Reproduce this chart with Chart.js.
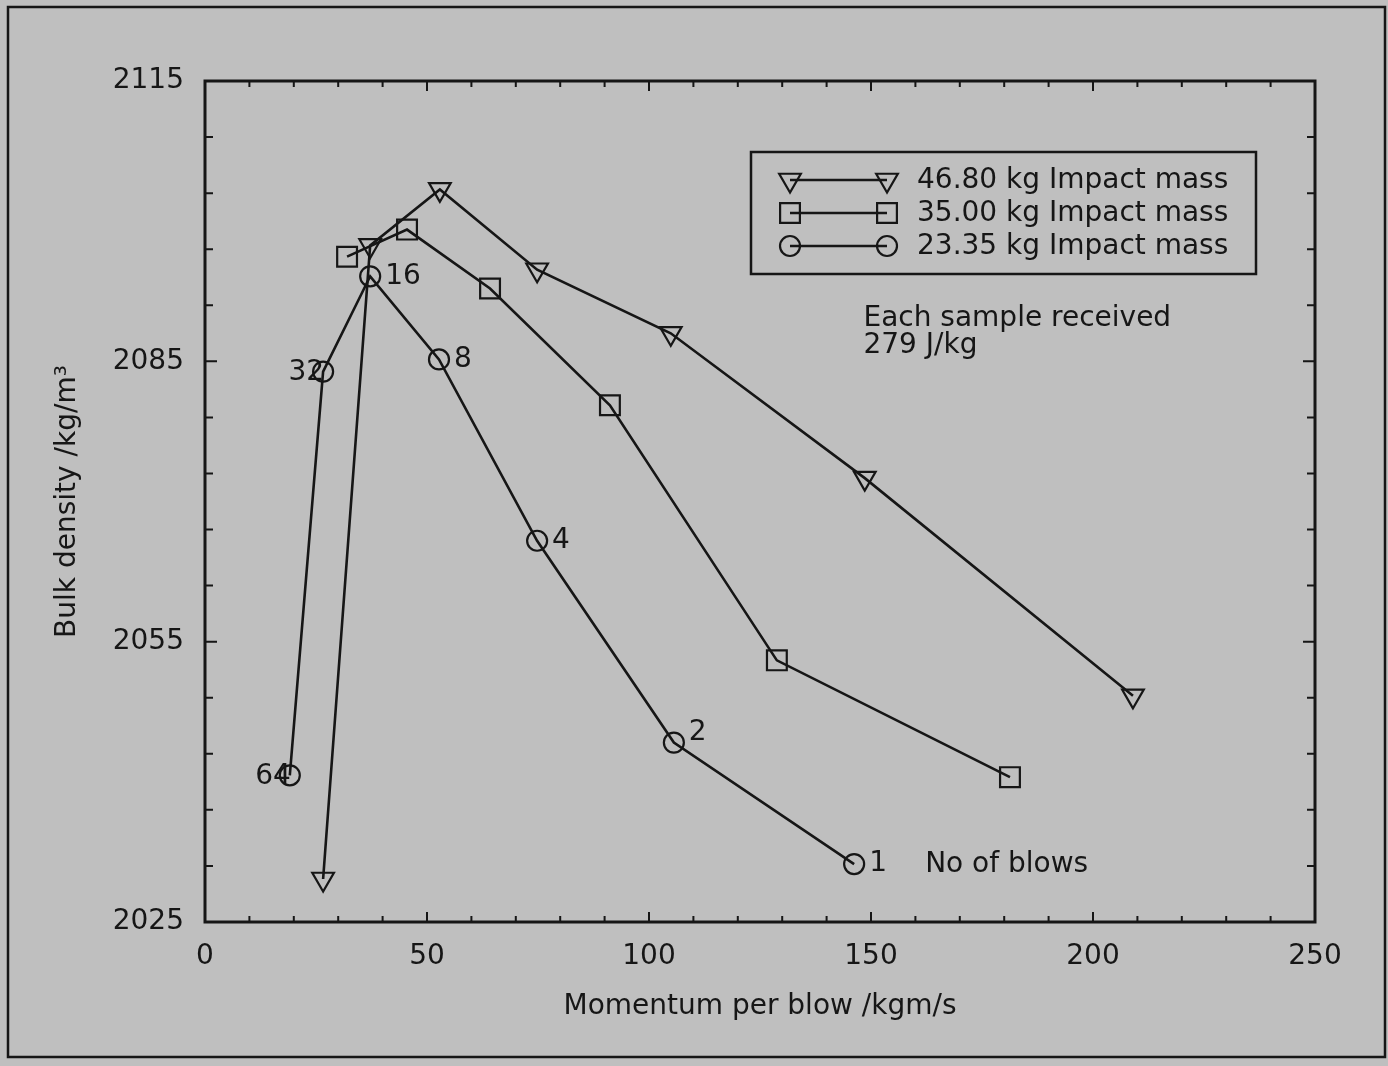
<!DOCTYPE html>
<html>
<head>
<meta charset="utf-8">
<style>
  html, body { margin: 0; padding: 0; background: #bfbfbf; }
  canvas { display: block; }
</style>
<script src="https://cdn.jsdelivr.net/npm/chart.js@4/dist/chart.umd.min.js"></script>
</head>
<body>
<canvas id="c" width="1388" height="1066"></canvas>
<script>
// ---- data ----
const seriesNames = ['46.80 kg Impact mass', '35.00 kg Impact mass', '23.35 kg Impact mass'];

const x468 = [26.6, 37.2, 52.9, 74.8, 104.9, 148.6, 209.0];
const y468 = [2029.6, 2097.4, 2103.4, 2094.8, 2088.0, 2072.5, 2049.2];

const x350 = [32.0, 45.5, 64.2, 91.2, 128.8, 181.3];
const y350 = [2096.2, 2099.1, 2092.8, 2080.3, 2053.0, 2040.5];

const x2335 = [19.1, 26.6, 37.2, 52.7, 74.8, 105.6, 146.2];
const y2335 = [2040.7, 2083.9, 2094.1, 2085.2, 2065.8, 2044.2, 2031.2];
const blows2335 = ['64', '32', '16', '8', '4', '2', '1'];

const xTickValues = [0,10,20,30,40,50,60,70,80,90,100,110,120,130,140,150,160,170,180,190,200,210,220,230,240,250];
const xTickLabels = [0, 50, 100, 150, 200, 250];
const yTickValues = [2025,2031,2037,2043,2049,2055,2061,2067,2073,2079,2085,2091,2097,2103,2109,2115];
const yTickLabels = [2025, 2055, 2085, 2115];

const xTitle = 'Momentum per blow /kgm/s';
const yTitle = 'Bulk density /kg/m\u00B3';
const noteLines = ['Each sample received', '279 J/kg'];
const blowsNote = 'No of blows';

// ---- styling ----
const BG = '#bfbfbf';
const INK = '#161616';
const FONT_FAMILY = '"DejaVu Sans", "Liberation Sans", Arial, sans-serif';
const FS = 28;
const TRI_R = 12.5, SQ_R = 14, CIRC_R = 10;

function pts(xs, ys) { return xs.map((x, i) => ({ x: x, y: ys[i] })); }

// marker drawing (same shapes as the chart uses) for the legend
function drawMarker(ctx, style, x, y) {
  ctx.save();
  ctx.strokeStyle = INK;
  ctx.lineWidth = 2.2;
  ctx.beginPath();
  if (style === 'tri') {
    for (let k = 0; k < 3; k++) {
      const a = Math.PI + k * 2 * Math.PI / 3;
      const px = x + Math.sin(a) * TRI_R, py = y - Math.cos(a) * TRI_R;
      if (k === 0) ctx.moveTo(px, py); else ctx.lineTo(px, py);
    }
    ctx.closePath();
  } else if (style === 'sq') {
    const s = SQ_R * Math.SQRT1_2;
    ctx.rect(x - s, y - s, 2 * s, 2 * s);
  } else {
    ctx.arc(x, y, CIRC_R, 0, Math.PI * 2);
  }
  ctx.stroke();
  ctx.restore();
}

const decor = {
  id: 'decor',
  beforeDraw(chart) {
    const ctx = chart.ctx;
    ctx.save();
    ctx.fillStyle = BG;
    ctx.fillRect(0, 0, chart.width, chart.height);
    ctx.strokeStyle = INK;
    ctx.lineWidth = 2.5;
    ctx.strokeRect(8, 7, 1377, 1050);
    ctx.restore();
  },
  afterDatasetsDraw(chart) {
    const ctx = chart.ctx;
    const a = chart.chartArea;
    const xs = chart.scales.x, ys = chart.scales.y;
    ctx.save();
    // plot frame
    ctx.strokeStyle = INK;
    ctx.lineWidth = 3;
    ctx.strokeRect(a.left, a.top, a.right - a.left, a.bottom - a.top);
    // inward ticks
    ctx.lineWidth = 2;
    ctx.beginPath();
    xs.ticks.forEach(t => {
      const px = xs.getPixelForValue(t.value);
      const len = xTickLabels.includes(t.value) ? 10 : 6;
      ctx.moveTo(px, a.bottom); ctx.lineTo(px, a.bottom - len);
      ctx.moveTo(px, a.top); ctx.lineTo(px, a.top + len);
    });
    ys.ticks.forEach(t => {
      const py = ys.getPixelForValue(t.value);
      const len = yTickLabels.includes(t.value) ? 12 : 8;
      ctx.moveTo(a.left, py); ctx.lineTo(a.left + len, py);
      ctx.moveTo(a.right, py); ctx.lineTo(a.right - len, py);
    });
    ctx.stroke();

    // blow count labels beside the 23.35 kg points
    ctx.fillStyle = INK;
    ctx.font = FS + 'px ' + FONT_FAMILY;
    ctx.textBaseline = 'middle';
    const meta = chart.getDatasetMeta(2);
    meta.data.forEach((el, i) => {
      const lab = blows2335[i];
      if (Number(lab) >= 32) {
        ctx.textAlign = 'right';
        ctx.fillText(lab, el.x + 1, el.y + 1);
      } else {
        ctx.textAlign = 'left';
        ctx.fillText(lab, el.x + 15, el.y - (lab === '2' ? 10 : 0));
      }
    });
    // "No of blows"
    const last = meta.data[meta.data.length - 1];
    ctx.textAlign = 'left';
    ctx.fillText(blowsNote, last.x + 71, last.y + 1);

    // note text
    const nx = xs.getPixelForValue(148.3);
    const ny = ys.getPixelForValue(2089.6);
    ctx.fillText(noteLines[0], nx, ny);
    ctx.fillText(noteLines[1], nx, ny + 27);

    // legend box
    const lx = 751, ly = 152, lw = 505, lh = 122;
    ctx.lineWidth = 2.5;
    ctx.strokeRect(lx, ly, lw, lh);
    const styles = ['tri', 'sq', 'circ'];
    const rows = [180, 213, 246];
    rows.forEach((ry, i) => {
      ctx.lineWidth = 2.5;
      ctx.beginPath();
      ctx.moveTo(790, ry); ctx.lineTo(887, ry);
      ctx.stroke();
      drawMarker(ctx, styles[i], 790, ry);
      drawMarker(ctx, styles[i], 887, ry);
      ctx.textAlign = 'left';
      ctx.fillText(seriesNames[i], 917, ry + 1);
    });
    ctx.restore();
  }
};

const common = {
  showLine: true,
  borderColor: INK,
  borderWidth: 2.6,
  pointBorderColor: INK,
  pointBackgroundColor: 'rgba(0,0,0,0)',
  pointBorderWidth: 2.2,
  pointHoverRadius: 0,
  tension: 0,
  fill: false,
  clip: false
};

const tickFont = { family: FONT_FAMILY, size: FS };

new Chart(document.getElementById('c').getContext('2d'), {
  type: 'scatter',
  data: {
    datasets: [
      Object.assign({}, common, { label: seriesNames[0], data: pts(x468, y468), pointStyle: 'triangle', rotation: 180, pointRadius: TRI_R }),
      Object.assign({}, common, { label: seriesNames[1], data: pts(x350, y350), pointStyle: 'rect', pointRadius: SQ_R }),
      Object.assign({}, common, { label: seriesNames[2], data: pts(x2335, y2335), pointStyle: 'circle', pointRadius: CIRC_R })
    ]
  },
  options: {
    responsive: false,
    animation: false,
    devicePixelRatio: 1,
    layout: { padding: { left: 0, top: 81, right: 73, bottom: 0 } },
    plugins: { legend: { display: false }, tooltip: { enabled: false } },
    events: [],
    scales: {
      x: {
        type: 'linear', min: 0, max: 250,
        afterBuildTicks: s => { s.ticks = xTickValues.map(v => ({ value: v })); },
        afterFit: s => { s.height = 144; },
        grid: { display: false, drawTicks: false },
        border: { display: false },
        ticks: {
          autoSkip: false, maxRotation: 0, padding: 18, color: INK, font: tickFont,
          callback: v => xTickLabels.includes(v) ? String(v) : ''
        },
        title: { display: true, text: xTitle, color: INK, font: tickFont, padding: { top: 0, bottom: 42 } }
      },
      y: {
        type: 'linear', min: 2025, max: 2115,
        afterBuildTicks: s => { s.ticks = yTickValues.map(v => ({ value: v })); },
        afterFit: s => { s.width = 205; },
        grid: { display: false, drawTicks: false },
        border: { display: false },
        ticks: {
          autoSkip: false, padding: 21, color: INK, font: tickFont,
          callback: v => yTickLabels.includes(v) ? String(v) : ''
        },
        title: { display: true, text: yTitle, color: INK, font: tickFont, padding: { top: 51, bottom: 0 } }
      }
    }
  },
  plugins: [decor]
});
</script>
</body>
</html>
